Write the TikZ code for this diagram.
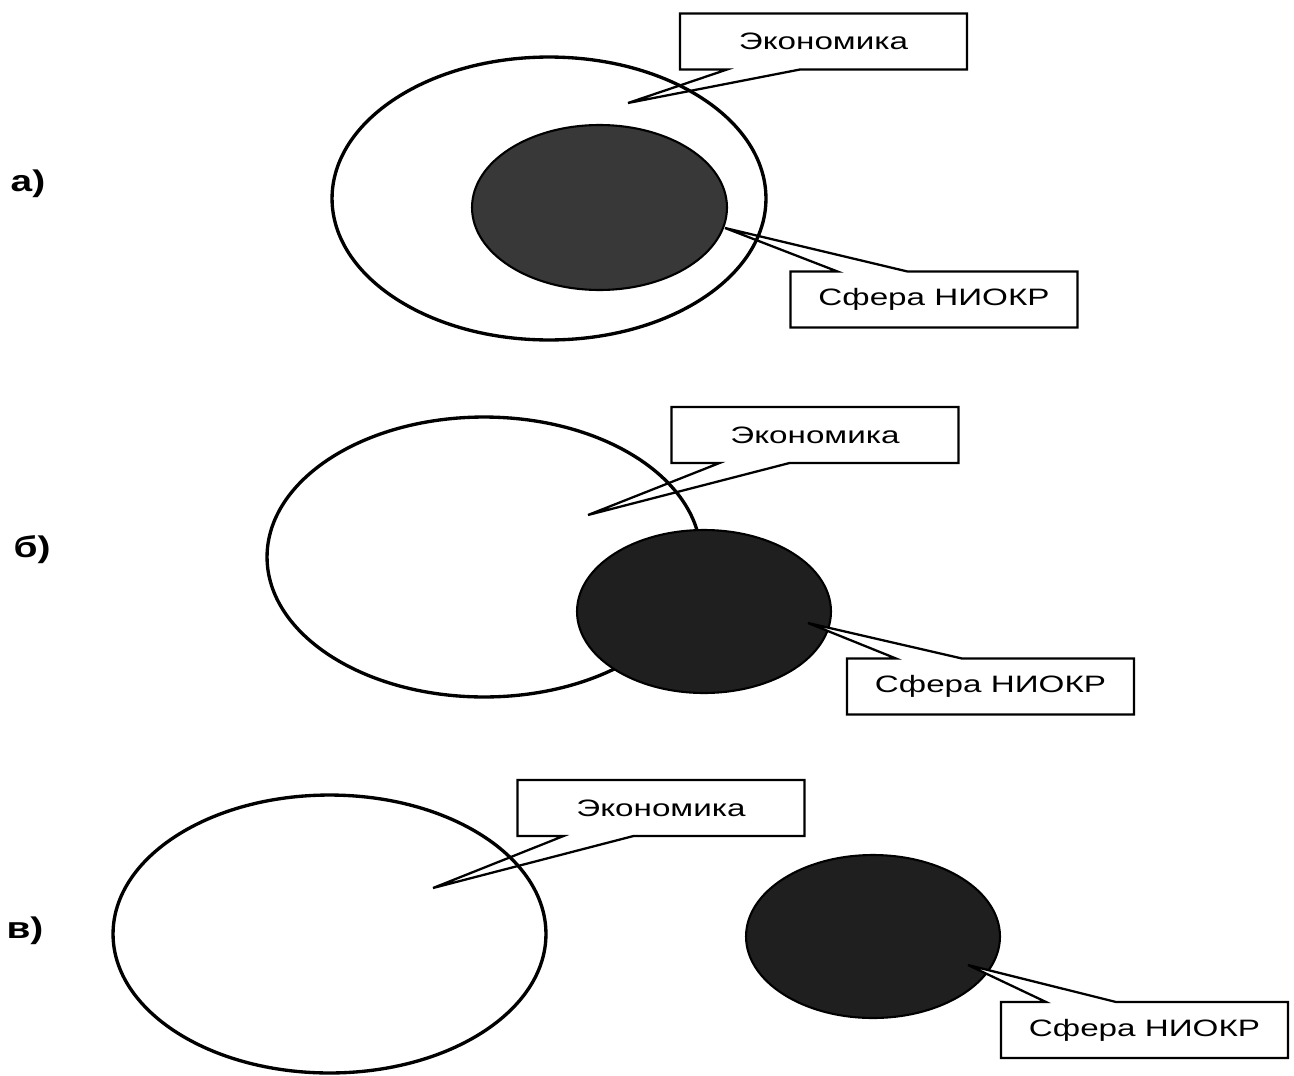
\documentclass[tikz,border=0pt]{standalone}
\usepackage{fontspec}
\setmainfont{Liberation Sans}
\usetikzlibrary{shapes.geometric,calc}
\tikzset{
  boxph/.style={inner sep=0pt, outer sep=0pt, minimum width=5.74cm, minimum height=1.12cm},
  callout/.style={draw=black, fill=white, line width=1.3pt, line join=miter},
  outerell/.style={ellipse, draw=black, line width=1.9pt, inner sep=0pt, outer sep=0pt},
  darkell/.style={ellipse, draw=black, line width=1.2pt, inner sep=0pt, outer sep=0pt},
  btext/.style={inner sep=0pt, font=\fontsize{13.5}{16}\selectfont},
  plabel/.style={inner sep=0pt, font=\fontsize{17}{20}\selectfont\bfseries},
}
\newcommand{\wide}[1]{\scalebox{1.4}[1]{#1}}
\begin{document}
\begin{tikzpicture}[x=0.02cm, y=-0.02cm]
\useasboundingbox (0,0) rectangle (1294,1075);
\fill[white] (0,0) rectangle (1294,1075);

% ---------- panel a ----------
\node[boxph] (ea) at (823.5,41.5) {};
\node[boxph] (sa) at (934,299.5) {};
\coordinate (tea) at (628,103);
\coordinate (tsa) at (725,228);
\node[darkell, fill=black!78, minimum width=5.10cm, minimum height=3.30cm] (da) at (599.5,207.5) {};
\draw[callout] (ea.north west) -- (ea.north east) -- (ea.south east) -- ($(ea.south west)+(120,0)$) -- (tea) -- ($(ea.south west)+(47,0)$) -- (ea.south west) -- cycle;
\draw[callout] (sa.south west) -- (sa.north west) -- ($(sa.north west)+(47,0)$) -- (tsa) -- ($(sa.north west)+(117,0)$) -- (sa.north east) -- (sa.south east) -- cycle;
\node[outerell, minimum width=8.68cm, minimum height=5.66cm] (oa) at (549,198.5) {};

% ---------- panel b ----------
\node[boxph] (eb) at (815,435) {};
\node[boxph] (sb) at (990.5,686.5) {};
\coordinate (teb) at (588,515);
\coordinate (tsb) at (808,623);
\draw[callout] (eb.north west) -- (eb.north east) -- (eb.south east) -- ($(eb.south west)+(118,0)$) -- (teb) -- ($(eb.south west)+(48,0)$) -- (eb.south west) -- cycle;
\node[outerell, minimum width=8.68cm, minimum height=5.60cm] (ob) at (484,557) {};
\node[darkell, fill=black!88, minimum width=5.08cm, minimum height=3.26cm] (db) at (704,611.5) {};
\draw[callout] (sb.south west) -- (sb.north west) -- ($(sb.north west)+(49,0)$) -- (tsb) -- ($(sb.north west)+(115,0)$) -- (sb.north east) -- (sb.south east) -- cycle;

% ---------- panel c ----------
\node[boxph] (ec) at (661,808) {};
\node[boxph] (sc) at (1144.5,1030) {};
\coordinate (tec) at (433,888);
\coordinate (tsc) at (968,965);
\draw[callout] (ec.north west) -- (ec.north east) -- (ec.south east) -- ($(ec.south west)+(116,0)$) -- (tec) -- ($(ec.south west)+(46,0)$) -- (ec.south west) -- cycle;
\node[outerell, minimum width=8.66cm, minimum height=5.56cm] (oc) at (329.5,934) {};
\node[darkell, fill=black!88, minimum width=5.08cm, minimum height=3.26cm] (dc) at (873,936.5) {};
\draw[callout] (sc.south west) -- (sc.north west) -- ($(sc.north west)+(45,0)$) -- (tsc) -- ($(sc.north west)+(115,0)$) -- (sc.north east) -- (sc.south east) -- cycle;

% ---------- texts ----------
\node[btext] (tEa) at (ea.center) {\wide{Экономика}};
\node[btext] (tSa) at (sa.center) {\wide{Сфера НИОКР}};
\node[btext] (tEb) at (eb.center) {\wide{Экономика}};
\node[btext] (tSb) at (sb.center) {\wide{Сфера НИОКР}};
\node[btext] (tEc) at (ec.center) {\wide{Экономика}};
\node[btext] (tSc) at (sc.center) {\wide{Сфера НИОКР}};

\node[plabel] (la) at (28,184) {\scalebox{1.3}[1]{а)}};
\node[plabel] (lb) at (32,550) {\scalebox{1.3}[1]{б)}};
\node[plabel] (lc) at (25,931) {\scalebox{1.3}[1]{в)}};
\end{tikzpicture}
\end{document}
